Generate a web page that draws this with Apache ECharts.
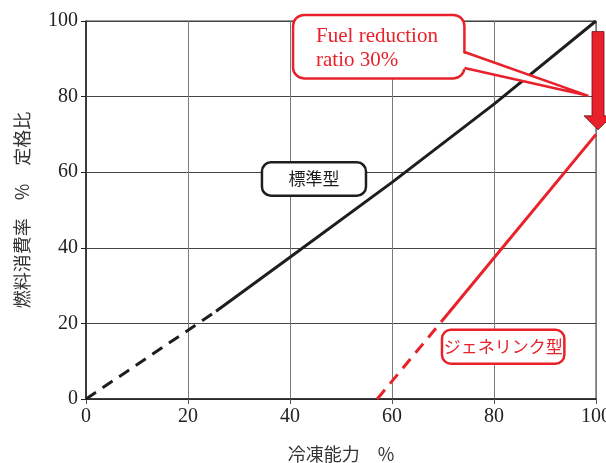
<!DOCTYPE html>
<html>
<head>
<meta charset="utf-8">
<style>
  html, body { margin: 0; padding: 0; background: #fff; }
  #chart { width: 606px; height: 463px; }
</style>
<script src="https://cdn.jsdelivr.net/npm/echarts@6/dist/echarts.min.js"></script>
</head>
<body>
<div id="chart"></div>
<script>
// ---- data ----
const xTicks = [0, 20, 40, 60, 80, 100];
const yTicks = [0, 20, 40, 60, 80, 100];
// Standard type (標準型): dashed part and solid part
const stdDashed = [[0, 0], [25.5, 23.2]];
const stdSolid  = [[25.5, 23.2], [40, 37.5], [60, 57.3], [80, 78.0], [100, 100]];
// Genelink type (ジェネリンク型)
const genDashed = [[57.1, 0], [71.0, 22.6]];
const genSolid  = [[71.0, 22.6], [100, 70]];
// annotations (data coordinates)
const arrowFromTo = [[100, 97.2], [100, 71.2]];
const calloutBox = [[40.6, 101.6], [74.2, 84.8]];
const calloutTip = [98.5, 80.2];
const calloutText = ['Fuel reduction', 'ratio 30%'];
const stdBox = [[34.5, 62.6], [54.9, 53.8]];
const stdLabel = '標準型';
const genBox = [[69.8, 18.3], [93.8, 9.3]];
const genLabel = 'ジェネリンク型';
const xName = '冷凍能力　%';
const yName = '燃料消費率　%　定格比';

const RED = '#e8212b';
const BLACK = '#1e1e1e';
const SERIF = '"Liberation Serif", "DejaVu Serif", serif';
const CJK = '"Noto Sans CJK JP", sans-serif';

const chart = echarts.init(document.getElementById('chart'));

function lineSeries(data, color, dashed) {
  return {
    type: 'line', data: data, symbol: 'none', silent: true, z: 3,
    lineStyle: { color: color, width: 3, type: dashed ? [12, 8] : 'solid', cap: 'butt' }
  };
}

chart.setOption({
  animation: false,
  grid: { left: 86, right: 10, top: 21, bottom: 64, show: true, borderColor: '#333', borderWidth: 1, outerBoundsMode: 'none' },
  xAxis: {
    type: 'value', min: xTicks[0], max: xTicks[xTicks.length - 1], interval: 20,
    name: xName, nameLocation: 'middle', nameGap: 46,
    nameTextStyle: { fontFamily: CJK, fontSize: 18, color: '#333' },
    axisLine: { lineStyle: { color: '#222', width: 1.5 } },
    axisTick: { show: true, inside: false, length: 5, lineStyle: { color: '#555' } },
    axisLabel: { margin: 8, fontFamily: SERIF, fontSize: 20, color: '#222' },
    splitLine: { show: true, lineStyle: { color: '#7a7a7a', width: 1 } }
  },
  yAxis: {
    type: 'value', min: yTicks[0], max: yTicks[yTicks.length - 1], interval: 20,
    name: yName, nameLocation: 'middle', nameGap: 55, nameRotate: 90,
    nameTextStyle: { fontFamily: CJK, fontSize: 18, color: '#333' },
    axisLine: { show: true, lineStyle: { color: '#222', width: 1.5 } },
    axisTick: { show: true, inside: false, length: 5, lineStyle: { color: '#222' } },
    axisLabel: { margin: 8, fontFamily: SERIF, fontSize: 20, color: '#222' },
    splitLine: { show: true, lineStyle: { color: '#444', width: 1 } }
  },
  series: [
    lineSeries(stdDashed, BLACK, true),
    lineSeries(stdSolid, BLACK, false),
    lineSeries(genDashed, RED, true),
    lineSeries(genSolid, RED, false)
  ]
});

function px(p) { return chart.convertToPixel({ gridIndex: 0 }, p); }

const graphics = [];

// callout box with tail
const cb0 = px(calloutBox[0]), cb1 = px(calloutBox[1]);
const tip = px(calloutTip);
const tailTop = [cb1[0] - 2, cb0[1] + 37];
const tailBot = [cb1[0] - 2, cb0[1] + 53];
graphics.push({
  type: 'rect', z: 10,
  shape: { x: cb0[0], y: cb0[1], width: cb1[0] - cb0[0], height: cb1[1] - cb0[1], r: 11 },
  style: { fill: '#fff', stroke: RED, lineWidth: 2.5 }
});
graphics.push({
  type: 'polygon', z: 11,
  shape: { points: [[tailTop[0] - 3, tailTop[1]], tip, [tailBot[0] - 3, tailBot[1]]] },
  style: { fill: '#fff', stroke: null }
});
graphics.push({
  type: 'polyline', z: 12,
  shape: { points: [[cb1[0], tailTop[1]], tip, [cb1[0], tailBot[1]]] },
  style: { stroke: RED, lineWidth: 2.5, fill: null, lineJoin: 'miter' }
});
graphics.push({
  type: 'text', z: 13,
  x: cb0[0] + 23, y: cb0[1] + 10,
  style: { text: calloutText.join('\n'), fill: RED, font: '21px ' + SERIF, lineHeight: 24, verticalAlign: 'top', align: 'left' }
});

// red arrow
const a0 = px(arrowFromTo[0]), a1 = px(arrowFromTo[1]);
const cx = a0[0] + 2, bodyW = 12, headW = 28, headL = 14;
graphics.push({
  type: 'polygon', z: 14,
  shape: { points: [
    [cx - bodyW / 2, a0[1]], [cx + bodyW / 2, a0[1]],
    [cx + bodyW / 2, a1[1] - headL], [cx + headW / 2, a1[1] - headL],
    [cx, a1[1]],
    [cx - headW / 2, a1[1] - headL], [cx - bodyW / 2, a1[1] - headL]
  ] },
  style: { fill: RED, stroke: '#6a1010', lineWidth: 0.8 }
});

// label boxes
function labelBox(box, text, color) {
  const p0 = px(box[0]), p1 = px(box[1]);
  graphics.push({
    type: 'rect', z: 10,
    shape: { x: p0[0], y: p0[1], width: p1[0] - p0[0], height: p1[1] - p0[1], r: 9 },
    style: { fill: '#fff', stroke: color, lineWidth: 2.5 }
  });
  graphics.push({
    type: 'text', z: 11,
    x: (p0[0] + p1[0]) / 2, y: (p0[1] + p1[1]) / 2,
    style: { text: text, fill: color, font: '17px ' + CJK, align: 'center', verticalAlign: 'middle' }
  });
}
labelBox(stdBox, stdLabel, BLACK);
labelBox(genBox, genLabel, RED);

chart.setOption({ graphic: graphics });
</script>
</body>
</html>
